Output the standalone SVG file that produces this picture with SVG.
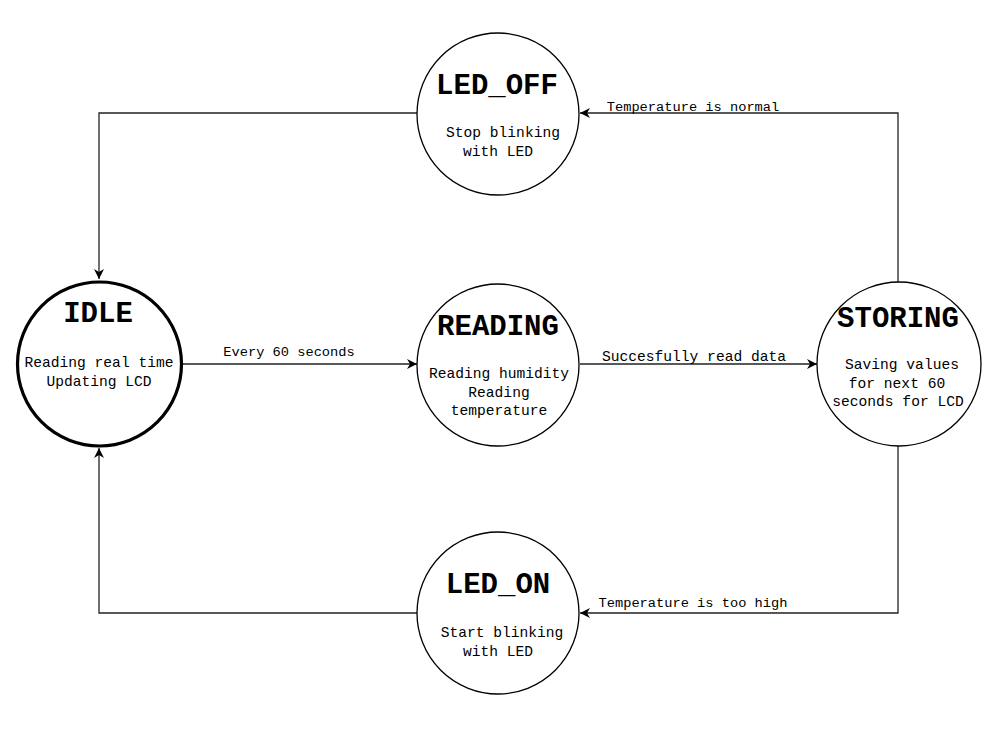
<svg xmlns="http://www.w3.org/2000/svg" width="992" height="730" viewBox="0 0 992 730">
<style>
.node{fill:#fff;stroke:#000;stroke-width:1.3}
.idle{stroke-width:3.2}
.title{font-family:"Liberation Mono",monospace;font-weight:bold;font-size:29px;fill:#000;text-anchor:middle}
.sub{font-family:"Liberation Mono",monospace;font-size:14.6px;fill:#000;text-anchor:middle}
.lbl{font-family:"Liberation Mono",monospace;font-size:13.7px;fill:#000;text-anchor:middle}
.edge{fill:none;stroke:#222;stroke-width:1.3}
</style>
<defs>
<marker id="arr" viewBox="0 0 10 10" refX="10" refY="5" markerWidth="10" markerHeight="10" markerUnits="userSpaceOnUse" orient="auto">
<path d="M0,0 L10,5 L0,10 L3,5 Z" fill="#000"/>
</marker>
</defs>
<rect width="992" height="730" fill="#fff"/>
<g id="connectors">
<path class="edge" d="M417,113 H99 V279" marker-end="url(#arr)"/>
<path class="edge" d="M417,613 H99 V448" marker-end="url(#arr)"/>
<path class="edge" d="M183,364 H417" marker-end="url(#arr)"/>
<text class="lbl" x="289" y="356">Every 60 seconds</text>
<path class="edge" d="M580,364 H817" marker-end="url(#arr)"/>
<text class="lbl" x="694" y="361" style="font-size:14.6px">Succesfully read data</text>
<path class="edge" d="M898,282 V113 H580" marker-end="url(#arr)"/>
<text class="lbl" x="693" y="111">Temperature is normal</text>
<path class="edge" d="M898,446 V613 H580" marker-end="url(#arr)"/>
<text class="lbl" x="693" y="607">Temperature is too high</text>
</g>
<g id="LED_OFF">
<circle class="node" cx="498" cy="114" r="81"/>
<text class="title" x="497" y="94">LED_OFF</text>
<text class="sub" x="503" y="137">Stop blinking</text>
<text class="sub" x="498" y="156">with LED</text>
</g>
<g id="IDLE">
<circle class="node idle" cx="99.5" cy="364" r="82"/>
<text class="title" x="98" y="322">IDLE</text>
<text class="sub" x="99" y="367">Reading real time</text>
<text class="sub" x="99" y="386">Updating LCD</text>
</g>
<g id="READING">
<circle class="node" cx="498" cy="365" r="81"/>
<text class="title" x="498" y="335">READING</text>
<text class="sub" x="499" y="378">Reading humidity</text>
<text class="sub" x="499" y="397">Reading</text>
<text class="sub" x="499" y="415">temperature</text>
</g>
<g id="STORING">
<circle class="node" cx="899" cy="364" r="82"/>
<text class="title" x="898" y="327">STORING</text>
<text class="sub" x="902" y="369">Saving values</text>
<text class="sub" x="897" y="388">for next 60</text>
<text class="sub" x="898" y="406">seconds for LCD</text>
</g>
<g id="LED_ON">
<circle class="node" cx="498" cy="613" r="81"/>
<text class="title" x="498" y="593">LED_ON</text>
<text class="sub" x="502" y="637">Start blinking</text>
<text class="sub" x="498" y="656">with LED</text>
</g>
</svg>
